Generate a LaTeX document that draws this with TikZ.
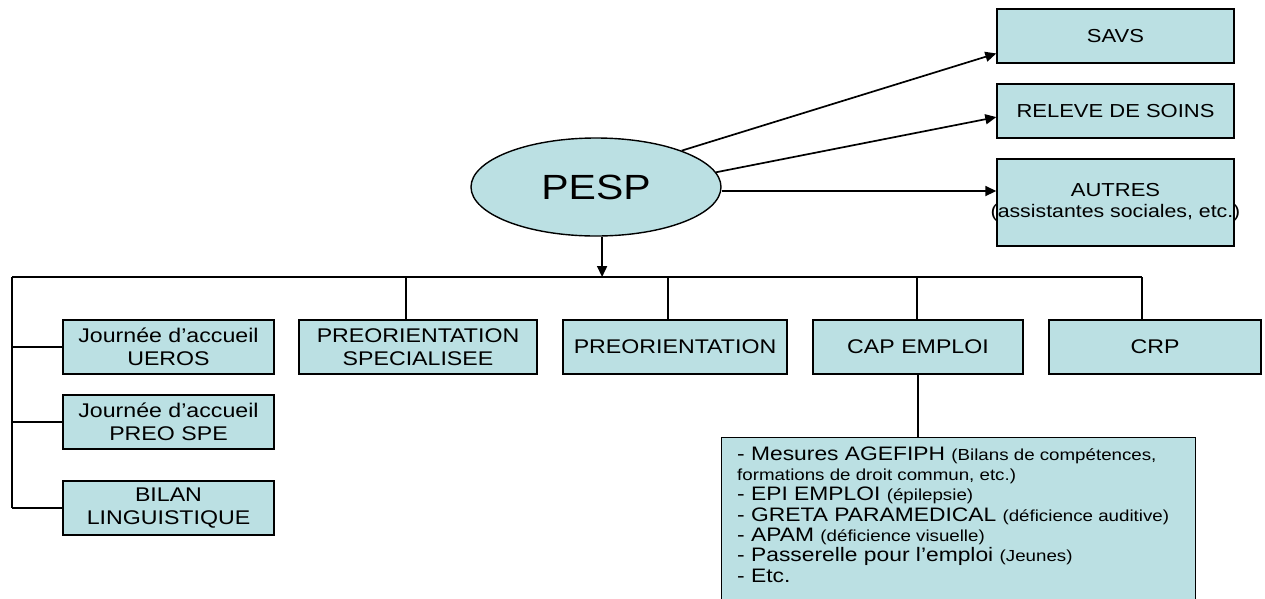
\documentclass[tikz,border=0pt]{standalone}
\usepackage{fontspec}
\usetikzlibrary{arrows.meta,calc,shapes.geometric}
\newfontfamily\lbfont[FakeStretch=1.17]{Liberation Sans}
\definecolor{boxblue}{RGB}{187,224,227}
\newcommand\fntlow{\lbfont\fontsize{19.8}{22.5}\selectfont}
\newcommand\fnttop{\lbfont\fontsize{18.8}{24}\selectfont}
\newcommand\fntbig{\lbfont\fontsize{19.5}{20.3}\selectfont}
\newcommand\fntsm{\lbfont\fontsize{16}{20.3}\selectfont}
\newcommand\fntpesp{\lbfont\fontsize{35}{40}\selectfont}
\begin{document}
\begin{tikzpicture}[x=1pt,y=-1pt,
  bx/.style={draw, fill=boxblue, line width=1.4pt, inner sep=0pt, align=center, font=\fntlow, minimum height=54pt},
  topbx/.style={bx, font=\fnttop, minimum width=237pt},
  ln/.style={line width=1.7pt},
  arr/.style={line width=1.7pt, -{Triangle[length=11pt,width=10pt]}}]
\useasboundingbox (0,0) rectangle (1265,598);
\clip (0,0) rectangle (1265,598);

% central ellipse
\node[ellipse, draw, fill=boxblue, line width=1.4pt, inner sep=0pt,
      minimum width=250pt, minimum height=98pt, font=\fntpesp] (pesp) at (596,187) {PESP};

% right column
\node[topbx] (savs) at (1115.5,36) {SAVS};
\node[topbx] (releve) at (1115.5,111) {RELEVE DE SOINS};
\node[topbx, minimum height=87pt] (autres) at (1115.5,202.5)
  {\raisebox{-3pt}{AUTRES}\\\makebox[0pt][c]{\fontsize{18.2}{24}\selectfont(assistantes sociales, etc.)}};

% row of boxes
\node[bx, minimum width=238pt] (psp) at (418,347) {PREORIENTATION\\SPECIALISEE};
\node[bx, minimum width=224pt] (preo) at (675,347) {PREORIENTATION};
\node[bx, minimum width=210pt] (cap) at (918,347) {CAP EMPLOI};
\node[bx, minimum width=212pt] (crp) at (1155,347) {CRP};

% left column
\node[bx, minimum width=211pt] (ueros) at (168.5,347) {Journée d’accueil\\UEROS};
\node[bx, minimum width=211pt] (preospe) at (168.5,422) {Journée d’accueil\\PREO SPE};
\node[bx, minimum width=211pt] (bilan) at (168.5,508) {BILAN\\LINGUISTIQUE};

% CAP EMPLOI detail box
\node[draw, fill=boxblue, line width=1.4pt, inner sep=0pt, anchor=north west,
      minimum width=474pt, minimum height=200pt] (capbox) at (721,437) {};
\node[anchor=base west, align=left, inner sep=0pt, font=\fntbig] (captext) at (737,582)
 {- Mesures AGEFIPH {\fntsm (Bilans de compétences,}\\
  {\fntsm formations de droit commun, etc.)}\\
  - EPI EMPLOI {\fntsm (épilepsie)}\\
  - GRETA PARAMEDICAL {\fntsm (déficience auditive)}\\
  - APAM {\fntsm (déficience visuelle)}\\
  - Passerelle pour l’emploi {\fntsm (Jeunes)}\\
  - Etc.};

% tree connectors
\coordinate (hl) at (12,277);
\coordinate (d1) at (406,277);
\coordinate (d2) at (668,277);
\coordinate (d3) at (917,277);
\coordinate (d4) at (1142,277);
\draw[ln] (hl) -- (d4);
\draw[arr] (pesp.-83) -- (pesp.-83 |- hl);
\draw[ln] (d1) -- (d1 |- psp.north);
\draw[ln] (d2) -- (d2 |- preo.north);
\draw[ln] (d3) -- (d3 |- cap.north);
\draw[ln] (d4) -- (d4 |- crp.north);
\draw[ln] (hl) -- (hl |- bilan.west);
\draw[ln] (hl |- ueros.west) -- (ueros.west);
\draw[ln] (hl |- preospe.west) -- (preospe.west);
\draw[ln] (hl |- bilan.west) -- (bilan.west);
\draw[ln] (cap.south) -- (cap.south |- capbox.north);

% arrows to the right column
\coordinate (a1) at ($(savs.north west)!0.815!(savs.south west)$);
\coordinate (a2) at ($(releve.north west)!0.61!(releve.south west)$);
\coordinate (a3) at ($(autres.north west)!0.37!(autres.south west)$);
\draw[arr] (pesp.23.5) -- (a1);
\draw[arr] (pesp.7.7) -- (a2);
\draw[arr] (pesp.east |- a3) -- (a3);
\end{tikzpicture}
\end{document}
